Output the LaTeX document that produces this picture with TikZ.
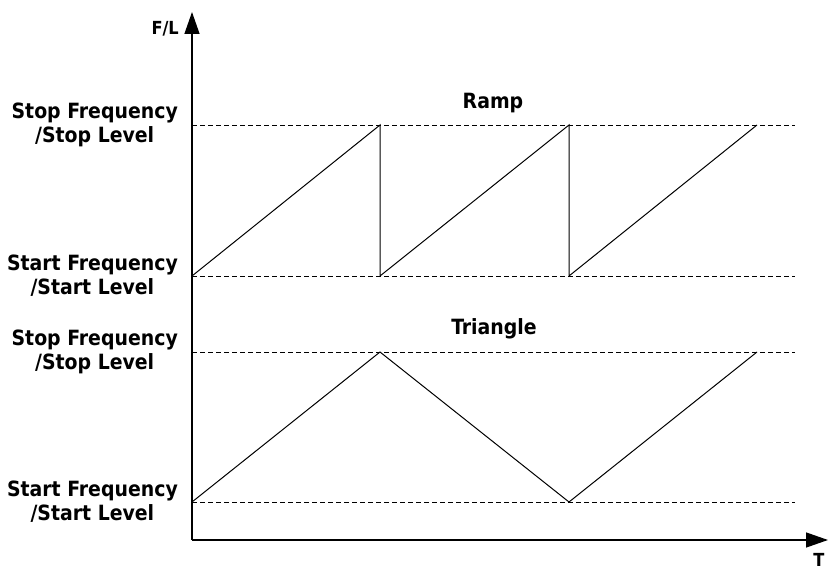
\documentclass[tikz,border=0pt]{standalone}
\usepackage{fontspec}
\setmainfont{DejaVu Sans Condensed}
\usetikzlibrary{arrows.meta,positioning}
\tikzset{
  axis/.style={
    -{Triangle[length=22pt,width=15pt]},
    line width=1.3pt
  },
  level/.style={
    dash pattern=on 5pt off 3pt,
    line width=0.7pt
  },
  wave/.style={
    line width=1pt,
    line join=miter
  },
  lvllabel/.style={
    font=\bfseries\fontsize{21}{24}\selectfont,
    align=center,
    inner sep=0pt
  },
  wavetitle/.style={
    font=\bfseries\fontsize{21}{24}\selectfont,
    inner sep=0pt,
    anchor=base
  },
  axislabel/.style={
    font=\bfseries\fontsize{18}{20}\selectfont,
    inner sep=0pt
  }
}

\begin{document}
\begin{tikzpicture}[x=1pt,y=-1pt]

\useasboundingbox (0,0) rectangle (828,569);

% axes
\coordinate (O) at (192,540);
\coordinate (ytip) at (192,12);
\coordinate (xtip) at (828,540);
\draw[axis] (O) -- (ytip);
\draw[axis] (O) -- (xtip);
\node[axislabel, anchor=base east] (flbl) at (179,35) {F/L};
\node[axislabel, anchor=base] (tlbl) at (819,566) {T};

% levels
\coordinate (rampstop) at (192,125);
\coordinate (rampstart) at (192,276);
\coordinate (tristop) at (192,352);
\coordinate (tristart) at (192,502);
\foreach \lv in {rampstop,rampstart,tristop,tristart}
  \draw[level] (\lv) -- ++(603,0);

\node[lvllabel, left=14pt of rampstop] (rampstoplbl) {Stop Frequency\\/Stop Level};
\node[lvllabel, left=14pt of rampstart] (rampstartlbl) {Start Frequency\\/Start Level};
\node[lvllabel, left=14pt of tristop] (tristoplbl) {Stop Frequency\\/Stop Level};
\node[lvllabel, left=14pt of tristart] (tristartlbl) {Start Frequency\\/Start Level};

% ramp
\draw[wave] (rampstart) -- (380,125) -- (380,276) -- (569,125) -- (569,276) -- (757,125);
\node[wavetitle] (ramplbl) at (493,109) {Ramp};

% triangle
\draw[wave] (tristart) -- (380,352) -- (569,502) -- (757,352);
\node[wavetitle] (trilbl) at (494,335) {Triangle};

\end{tikzpicture}
\end{document}
